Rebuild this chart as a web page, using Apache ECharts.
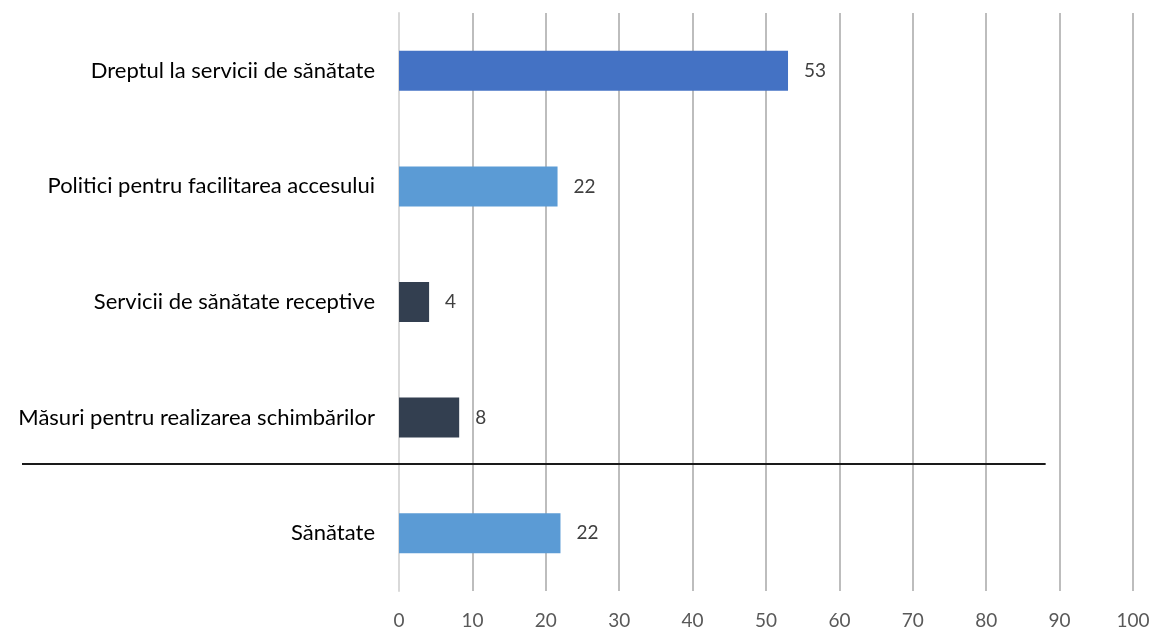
<!DOCTYPE html>
<html>
<head>
<meta charset="utf-8">
<script src="https://cdn.jsdelivr.net/npm/echarts@6/dist/echarts.min.js"></script>
<style>
  html, body { margin: 0; padding: 0; background: #fff; }
  #chart { width: 1154px; height: 632px; }
</style>
</head>
<body>
<div id="chart"></div>
<script>
// categories, top to bottom
const categories = [
  'Dreptul la servicii de sănătate',
  'Politici pentru facilitarea accesului',
  'Servicii de sănătate receptive',
  'Măsuri pentru realizarea schimbărilor',
  'Sănătate',
]
// bar lengths
const values = [53, 21.6, 4.1, 8.2, 22]
const labels = ['53', '22', '4', '8', '22']
const barColors = ['#4472c4', '#5b9bd5', '#333f50', '#333f50', '#5b9bd5']
const xTicks = [0, 10, 20, 30, 40, 50, 60, 70, 80, 90, 100]

const chart = echarts.init(document.getElementById('chart'))
const font = 'Lato, "Open Sans", sans-serif'

const option = {
  animation: false,
  grid: {
    left: 399,
    right: 21,
    top: 13,
    bottom: 41,
  },
  xAxis: {
    type: 'value',
    min: xTicks[0],
    max: xTicks[xTicks.length - 1],
    interval: 10,
    axisLine: { show: false },
    axisTick: { show: false },
    axisLabel: {
      margin: 20,
      color: '#595959',
      fontSize: 19,
      fontFamily: font,
    },
    splitLine: {
      show: true,
      lineStyle: { color: '#bdbdbd', width: 2 },
    },
  },
  yAxis: {
    type: 'category',
    inverse: true,
    data: categories,
    axisLine: { show: true, lineStyle: { color: '#d9d9d9', width: 2 } },
    axisTick: { show: false },
    axisLabel: {
      margin: 24,
      color: '#000',
      fontSize: 22,
      fontFamily: font,
    },
  },
  series: [
    {
      type: 'bar',
      barWidth: 40,
      data: values.map((v, i) => ({
        value: v,
        itemStyle: { color: barColors[i] },
      })),
      label: {
        show: true,
        position: 'right',
        distance: 16,
        color: '#404040',
        fontSize: 19,
        fontFamily: font,
        formatter: (p) => labels[p.dataIndex],
      },
    },
  ],
}
chart.setOption(option)

// separator between the four sub-items and the total
const y3 = chart.convertToPixel({ yAxisIndex: 0 }, categories[3])
const y4 = chart.convertToPixel({ yAxisIndex: 0 }, categories[4])
const sepY = Math.round(y3 + (y4 - y3) * 0.4)
const sepEnd = chart.convertToPixel({ xAxisIndex: 0 }, 88.1)
chart.setOption({
  graphic: [
    {
      type: 'line',
      shape: { x1: 22, y1: sepY, x2: sepEnd, y2: sepY },
      style: { stroke: '#1a1a1a', lineWidth: 2 },
      z: 100,
    },
  ],
})
</script>
</body>
</html>
